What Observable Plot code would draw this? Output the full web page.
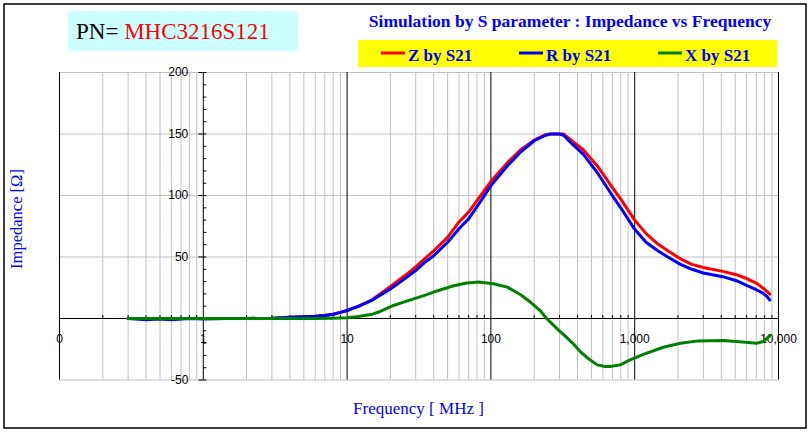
<!DOCTYPE html>
<html>
<head>
<meta charset="utf-8">
<script src="https://cdn.jsdelivr.net/npm/d3@7"></script>
<script src="https://cdn.jsdelivr.net/npm/@observablehq/plot@0.6"></script>
<style>
  body { margin: 0; background: #fff; }
  #chart { width: 812px; height: 434px; }
</style>
</head>
<body>
<div id="chart"></div>
<script>
// ---- data ----
const freqZR = [0.3,0.4,0.5,0.6,0.8,1,1.5,2,3,4,5,6,7,8,9,10,12,15,17,20,25,30,35,40,50,60,70,85,100,130,160,200,240,260,300,320,370,440,550,680,800,1000,1200,1430,1700,2080,2500,3000,4100,5100,6000,7000,7800,8300,8700];
const zVals = [0,0,0,0,0,0,0,0,0.3,1,1.5,1.8,2.5,3.5,5,6.5,10,15.4,20,26,34.5,42,49,55,66,78.5,86.5,100,111.5,126.5,137,145,149.5,150,150,150,144,137,124,108.5,97,80,69,61,55,48.5,44,41.5,38.3,35.6,32.5,28.8,24.7,22,19.8];
const rVals = [0,-1,-0.5,-1,0,-0.5,0,0,0.3,1,1.5,1.8,2.5,3.5,5,6.5,9.8,15,19,24,32,39,46,51,62,73,81,95.5,108,124,135,144.5,149,150,150,149,141.5,133.5,118.5,102,90,72.5,62,55.5,50,44,40,37,34,30.7,27,23.4,20.6,18,15];
const xFreq = [0.3,0.6,1,2,4,6,8,10,12,15,17,21,25,29,35,40,55,68,82,104,130,160,190,220,244,270,294,322,370,418,480,549,620,676,792,930,1150,1580,2080,2760,4130,5100,7050,7840,8700];
const xVals = [0,0,0,0,0,0,0.2,0.6,1.6,3.5,5.7,10.6,13.5,16,19,21.5,26.6,28.8,29.6,28.3,25.5,19.5,13,6.5,0,-5,-9.2,-13.3,-20,-26.9,-33,-37.7,-39,-39.1,-37.7,-33.7,-29.1,-23.4,-20.1,-18.2,-17.9,-18.7,-20.1,-18.7,-14.1];

const decadeTicks = [0.1, 1, 10, 100, 1000, 10000];
const decadeLabels = ["0", "1", "10", "100", "1,000", "10,000"];
const minorTicks = [0.2,0.3,0.4,0.5,0.6,0.7,0.8,0.9,2,3,4,5,6,7,8,9,20,30,40,50,60,70,80,90,200,300,400,500,600,700,800,900,2000,3000,4000,5000,6000,7000,8000,9000];
const yGrid = [-50, 50, 100, 150, 200];
const yLabels = [-50, 50, 100, 150, 200];
const yMajorTicks = [-50, 0, 50, 100, 150, 200];
const yMinorTicks = [-40,-30,-20,-10,10,20,30,40,60,70,80,90,110,120,130,140,160,170,180,190];

const seriesNames = ["Z by S21", "R by S21", "X by S21"];
const seriesColors = ["#ff0000", "#0000ff", "#008000"];

const toRows = (fs, vs) => fs.map((f, i) => ({f, v: vs[i]}));
const zData = toRows(freqZR, zVals);
const rData = toRows(freqZR, rVals);
const xData = toRows(xFreq, xVals);

const chart = Plot.plot({
  width: 812,
  height: 434,
  marginLeft: 59,
  marginRight: 34,
  marginTop: 72,
  marginBottom: 54.5,
  x: {type: "log", domain: [0.1, 10000], axis: null},
  y: {domain: [-50, 200], axis: null},
  style: {background: "white", fontFamily: "'Liberation Sans', Arial, sans-serif", fontSize: "12px", color: "black"},
  marks: [
    Plot.ruleX(minorTicks, {stroke: "#c0c0c0", strokeWidth: 1}),
    Plot.ruleY(yGrid, {stroke: "#c0c0c0", strokeWidth: 1}),
    Plot.ruleX(decadeTicks, {stroke: "black", strokeWidth: 1}),
    Plot.ruleY([0], {stroke: "black", strokeWidth: 1}),
    Plot.ruleX(minorTicks, {y1: 0, y2: 0, insetTop: -3, stroke: "black"}),
    Plot.ruleY(yMajorTicks, {x1: 1, x2: 1, insetLeft: -4.5, insetRight: -3.5, stroke: "black"}),
    Plot.ruleY(yMinorTicks, {x1: 1, x2: 1, insetRight: -3.5, stroke: "black"}),
    Plot.text(yLabels, {x: 1, y: d => d, text: d => String(d), textAnchor: "end", dx: -15, fill: "black", fontSize: 12}),
    Plot.text(decadeTicks, {x: d => d, y: 0, text: (d, i) => decadeLabels[i], dy: 21, fill: "black", fontSize: 12}),
    Plot.line(zData, {x: "f", y: "v", stroke: seriesColors[0], strokeWidth: 3}),
    Plot.line(rData, {x: "f", y: "v", stroke: seriesColors[1], strokeWidth: 3}),
    Plot.line(xData, {x: "f", y: "v", stroke: seriesColors[2], strokeWidth: 3})
  ]
});

document.getElementById("chart").appendChild(chart);

// ---- decorations drawn into the same SVG ----
const svg = d3.select(chart);
const serif = "'Liberation Serif', 'Times New Roman', serif";

svg.append("rect").attr("x", 4).attr("y", 4).attr("width", 802).attr("height", 424)
  .attr("fill", "none").attr("stroke", "black").attr("stroke-width", 1.5);

// PN box
svg.append("rect").attr("x", 68).attr("y", 11).attr("width", 230).attr("height", 40)
  .attr("rx", 4).attr("fill", "#ccffff");
const pn = svg.append("text").attr("x", 76).attr("y", 39).attr("text-anchor", "start")
  .attr("font-family", serif).attr("font-size", 23);
pn.append("tspan").attr("fill", "black").text("PN= ");
pn.append("tspan").attr("fill", "#ff0000").text("MHC3216S121");

// title
svg.append("text").attr("x", 570).attr("y", 27).attr("text-anchor", "middle")
  .attr("font-family", serif).attr("font-size", 17.5).attr("font-weight", "bold")
  .attr("fill", "#0000ff").text("Simulation by S parameter : Impedance vs Frequency");

// legend
svg.append("rect").attr("x", 358).attr("y", 40).attr("width", 419).attr("height", 27).attr("fill", "#ffff00");
const legendX = [381, 519, 658];
seriesNames.forEach((name, i) => {
  svg.append("line").attr("x1", legendX[i]).attr("x2", legendX[i] + 24)
    .attr("y1", 53).attr("y2", 53).attr("stroke", seriesColors[i]).attr("stroke-width", 3);
  svg.append("text").attr("x", legendX[i] + 27).attr("y", 61).attr("text-anchor", "start")
    .attr("font-family", serif).attr("font-size", 17).attr("font-weight", "bold")
    .attr("fill", "#0000ff").text(name);
});

// axis titles
svg.append("text").attr("x", 418.5).attr("y", 414).attr("text-anchor", "middle")
  .attr("font-family", serif).attr("font-size", 17).attr("fill", "#0000ff")
  .text("Frequency [ MHz ]");
svg.append("text").attr("transform", "translate(22,219) rotate(-90)").attr("text-anchor", "middle")
  .attr("font-family", serif).attr("font-size", 16.5).attr("fill", "#0000ff")
  .text("Impedance [Ω]");
</script>
</body>
</html>
